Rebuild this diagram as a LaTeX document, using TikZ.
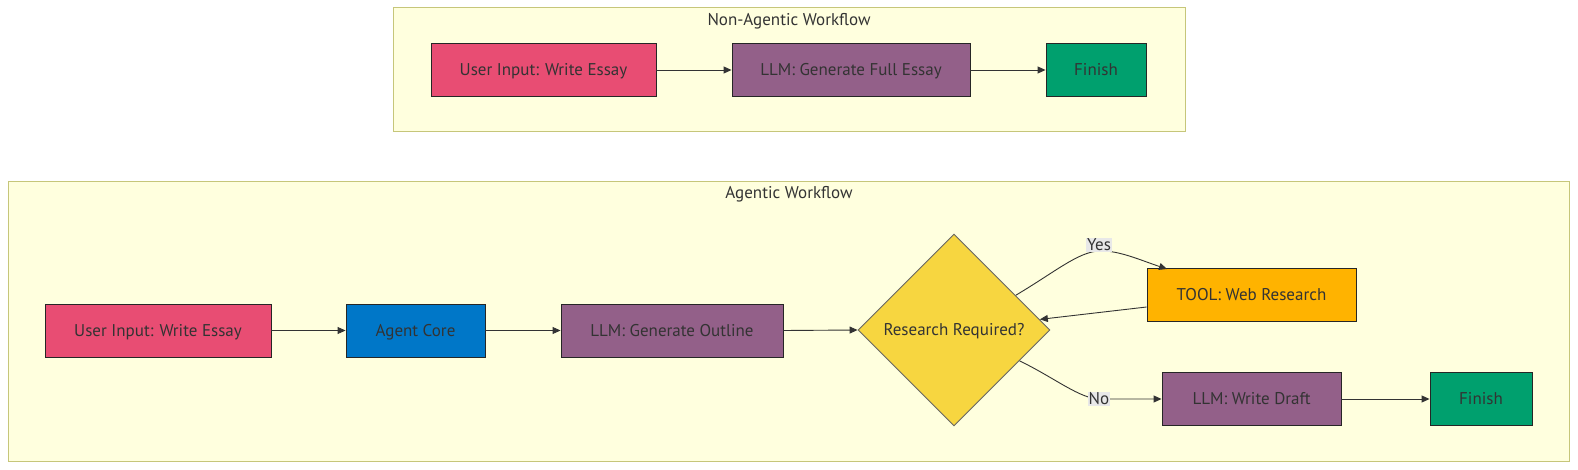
\documentclass[tikz,border=0pt]{standalone}
\usepackage{fontspec}
\setmainfont{PT Sans}
\usetikzlibrary{shapes.geometric,arrows.meta,calc}
\definecolor{txt}{HTML}{333333}
\definecolor{clfill}{HTML}{FFFFDE}
\definecolor{cldraw}{HTML}{C6C67A}
\definecolor{cpink}{HTML}{E84D73}
\definecolor{cpurple}{HTML}{936089}
\definecolor{cgreen}{HTML}{00A06E}
\definecolor{cblue}{HTML}{0077C8}
\definecolor{corange}{HTML}{FFB300}
\definecolor{cyellow}{HTML}{F7D640}
\definecolor{lblbg}{HTML}{E8E8E8}
\tikzset{
  cluster/.style={draw=cldraw, fill=clfill, line width=1pt},
  proc/.style={draw=black!85, line width=0.9pt, minimum height=53pt, inner sep=0pt, text height=12pt, text depth=1pt, text=txt, font=\fontsize{17pt}{19pt}\selectfont},
  dec/.style={diamond, draw=black!60, line width=0.9pt, fill=cyellow, minimum width=192pt, minimum height=192pt, inner sep=0pt, text height=12pt, text depth=1pt, text=txt, font=\fontsize{17pt}{19pt}\selectfont},
  conn/.style={draw=txt, line width=0.9pt, -{Triangle[length=8pt,width=7pt]}},
  elabel/.style={fill=lblbg, inner sep=1pt, text=txt, font=\fontsize{17pt}{19pt}\selectfont},
  ctitle/.style={text=txt, font=\fontsize{17pt}{19pt}\selectfont}
}
\begin{document}
\begin{tikzpicture}[x=1pt,y=-1pt]
\useasboundingbox[fill=white] (0,0) rectangle (1578,470);
% clusters
\draw[cluster] (393,8) rectangle (1185,132);
\node[ctitle] (t1) at (789,21) {Non-Agentic Workflow};
\draw[cluster] (8,182) rectangle (1569,461);
\node[ctitle] (t2) at (789,194) {Agentic Workflow};
% top row
\node[proc, fill=cpink, minimum width=225pt] (a1) at (543.5,70) {User Input: Write Essay};
\node[proc, fill=cpurple, minimum width=238pt] (a2) at (851,70) {LLM: Generate Full Essay};
\node[proc, fill=cgreen, minimum width=100pt] (a3) at (1096,70) {Finish};
\draw[conn] (a1) -- (a2);
\draw[conn] (a2) -- (a3);
% bottom row
\node[proc, fill=cpink, minimum width=226pt] (b1) at (158,330.5) {User Input: Write Essay};
\node[proc, fill=cblue, minimum width=139pt] (b2) at (415.5,330.5) {Agent Core};
\node[proc, fill=cpurple, minimum width=222pt] (b3) at (672,330.5) {LLM: Generate Outline};
\node[dec] (d) at (954,330) {Research Required?};
\node[proc, fill=corange, minimum width=209pt] (tw) at (1251.5,295) {TOOL: Web Research};
\node[proc, fill=cpurple, minimum width=179pt] (wd) at (1251.5,399) {LLM: Write Draft};
\node[proc, fill=cgreen, minimum width=102pt] (f2) at (1481,399) {Finish};
\draw[conn] (b1) -- (b2);
\draw[conn] (b2) -- (b3);
\draw[conn] (b3.east) -- (d.west);
\coordinate (ys) at ($(d.north)!0.64!(d.east)$);
\coordinate (ns) at ($(d.south)!0.68!(d.east)$);
\coordinate (te) at (1167,269);
\draw[conn] (ys) .. controls (1055,272) and (1078,252) .. (1099,251) .. controls (1118,250) and (1140,260) .. (te);
\node[elabel] (ly) at (1099,245) {Yes};
\coordinate (bk) at ($(d.north)!0.89!(d.east)$);
\draw[conn] (tw.west |- 0,307) -- (bk);
\draw[conn] (ns) .. controls (1055,378) and (1080,399) .. (1100,399) -- (wd.west);
\node[elabel] (ln) at (1099,399) {No};
\draw[conn] (wd) -- (f2);
\end{tikzpicture}
\end{document}
